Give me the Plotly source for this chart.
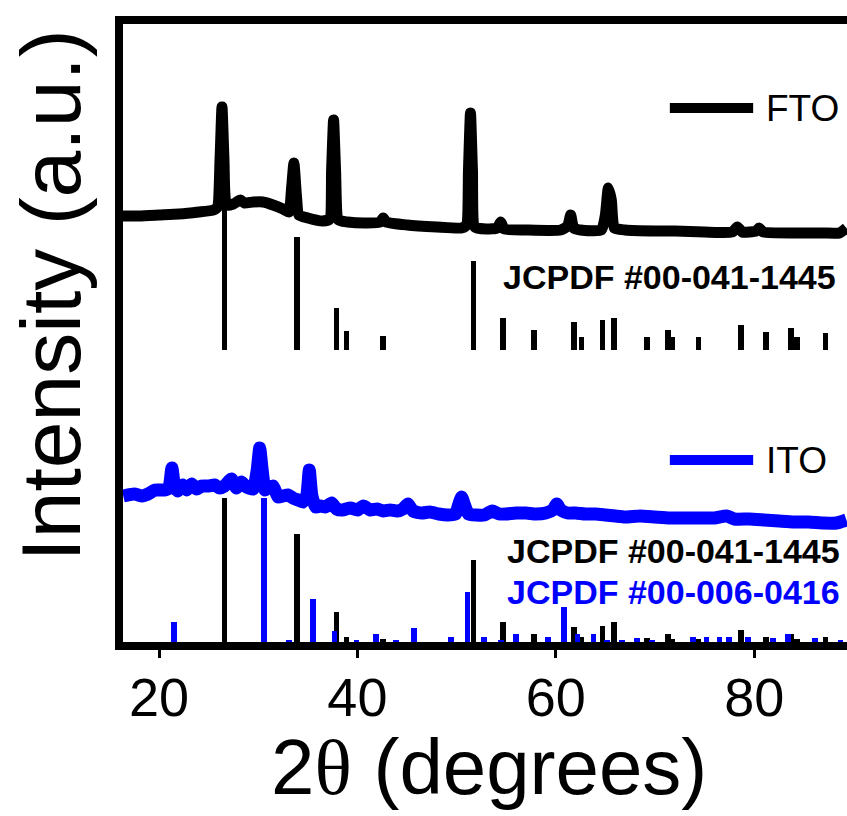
import plotly.graph_objects as go

# ---------------- data (2theta in degrees, intensity in arbitrary offset units) ----------------
fto_x = [16.0, 18.0, 20.0, 22.0, 24.0, 25.5, 25.9, 26.15, 26.35, 26.55, 26.8, 27.5, 28.2, 28.6, 29.5,
         30.5, 31.5, 32.5, 33.1, 33.35, 33.6, 33.85, 34.1, 35.0, 36.5, 37.2, 37.4, 37.6, 37.8, 38.1,
         39.0, 41.0, 42.3, 42.6, 42.9, 45.0, 48.0, 50.5, 51.0, 51.2, 51.4, 51.6, 51.85, 53.0, 54.1,
         54.45, 54.8, 57.0, 60.5, 61.2, 61.5, 61.8, 62.5, 64.6, 65.0, 65.3, 65.6, 65.9, 67.0, 70.0,
         72.0, 75.0, 77.8, 78.3, 78.8, 80.2, 80.5, 80.9, 84.0, 87.0, 88.6, 89.3]
fto_y = [426, 426, 427, 428, 430, 432, 435, 482, 535, 482, 437, 438, 442, 439, 440,
         440, 437, 433, 430, 452, 479, 447, 427, 424, 421, 423, 472, 522, 472, 422,
         420, 419, 420, 424, 420, 417, 415, 414, 417, 472, 529, 472, 415, 413, 414,
         420, 413, 412, 412, 416, 427, 414, 412, 412, 427, 454, 442, 414, 412, 411,
         411, 410, 410, 415, 410, 411, 414, 410, 409, 409, 409, 414]

ito_x = [16.4, 17.5, 18.3, 18.9, 19.6, 20.6, 21.0, 21.3, 21.6, 21.9, 22.4, 22.8, 23.3, 23.8, 24.3,
         25.0, 25.6, 26.1, 26.6, 27.3, 27.8, 28.3, 28.8, 29.5, 29.9, 30.15, 30.4, 30.7, 31.0, 31.5,
         32.0, 32.5, 33.0, 33.5, 34.0, 34.5, 34.9, 35.15, 35.4, 35.8, 36.3, 36.8, 37.4, 37.9, 38.5,
         39.3, 40.0, 40.6, 41.3, 42.0, 42.6, 43.3, 44.0, 44.6, 45.1, 45.6, 46.5, 47.3, 48.2, 49.1,
         49.9, 50.2, 50.5, 50.8, 51.2, 52.0, 52.8, 53.6, 54.3, 55.0, 56.0, 57.0, 58.0, 59.0, 59.7,
         60.1, 60.5, 61.2, 62.0, 63.0, 64.0, 65.0, 66.0, 67.0, 68.5, 70.0, 71.5, 73.0, 74.5, 76.0,
         77.2, 78.0, 79.5, 81.0, 82.5, 84.0, 85.5, 87.0, 88.3, 89.3]
ito_y = [146, 148, 146, 148, 152, 152, 154, 174, 154, 151, 157, 152, 158, 153, 156,
         156, 157, 154, 156, 163, 154, 160, 155, 153, 172, 194, 172, 152, 154, 156,
         145, 146, 147, 144, 142, 140, 147, 172, 147, 135, 136, 135, 139, 133, 132,
         134, 132, 136, 132, 133, 131, 132, 131, 133, 138, 131, 129, 130, 128, 127,
         128, 137, 145, 137, 128, 127, 127, 131, 128, 128, 129, 129, 128, 129, 132,
         138, 132, 129, 129, 128, 128, 127, 126, 125, 126, 125, 124, 124, 124, 124,
         126, 123, 123, 122, 121, 120, 120, 119, 119, 122]

# JCPDF #00-041-1445 (SnO2) reference lines
sno2_pos = [26.6, 33.9, 37.9, 38.9, 42.6, 51.7, 54.7, 57.8, 61.8, 62.6, 64.7, 65.9, 69.2, 71.3,
            71.7, 74.4, 78.7, 81.2, 83.7, 84.3, 87.2]
sno2_upper = [145, 113, 42, 19, 14, 89, 32, 20, 28, 13, 30, 32, 13, 20, 13, 13, 25, 18, 22, 13, 17]
sno2_lower = [144, 108, 30, 5, 3, 82, 20, 8, 15, 5, 16, 20, 4, 8, 3, 3, 12, 5, 8, 3, 5]
upper_base = 292

# JCPDF #00-006-0416 (In2O3) reference lines
in2o3_pos = [21.5, 30.6, 33.1, 35.5, 37.7, 39.9, 41.9, 43.9, 45.7, 49.4, 51.1, 52.8, 54.5, 56.0,
             59.2, 60.8, 62.2, 63.8, 65.2, 66.7, 68.2, 69.7, 73.8, 75.2, 76.5, 77.5, 79.4, 81.9,
             83.4, 86.1, 88.7]
in2o3_h = [20, 144, 2, 43, 11, 2, 8, 2, 14, 5, 50, 5, 2, 8, 5, 35, 8, 8, 2, 2, 4, 2, 5, 5, 5, 5,
           5, 4, 8, 4, 2]

x_ticks = [20, 40, 60, 80]
BLUE = "#0000FF"
FONT = "Liberation Sans, Arial, sans-serif"
STICK_W = 0.58

fig = go.Figure()

fig.add_trace(go.Bar(x=sno2_pos, y=sno2_upper, base=upper_base, width=STICK_W,
                     marker=dict(color="black", line=dict(width=0)), showlegend=False))
fig.add_trace(go.Bar(x=sno2_pos, y=sno2_lower, base=0, width=STICK_W,
                     marker=dict(color="black", line=dict(width=0)), showlegend=False))
fig.add_trace(go.Bar(x=in2o3_pos, y=in2o3_h, base=0, width=STICK_W,
                     marker=dict(color=BLUE, line=dict(width=0)), showlegend=False))

fig.add_trace(go.Scatter(x=fto_x, y=fto_y, mode="lines", name="FTO",
                         line=dict(color="black", width=11, shape="spline", smoothing=0.5),
                         showlegend=False))
fig.add_trace(go.Scatter(x=ito_x, y=ito_y, mode="lines", name="ITO",
                         line=dict(color=BLUE, width=13, shape="spline", smoothing=0.5),
                         showlegend=False))

# legend samples
fig.add_shape(type="line", x0=71.5, x1=79.9, y0=534, y1=534, line=dict(color="black", width=10))
fig.add_shape(type="line", x0=71.5, x1=79.9, y0=182, y1=182, line=dict(color=BLUE, width=10))
fig.add_annotation(x=81.0, y=534, text="FTO", showarrow=False, xanchor="left", yanchor="middle",
                   font=dict(size=37, color="black", family=FONT))
fig.add_annotation(x=81.0, y=182, text="ITO", showarrow=False, xanchor="left", yanchor="middle",
                   font=dict(size=37, color="black", family=FONT))

fig.add_annotation(x=88.5, y=365, text="<b>JCPDF #00-041-1445</b>", showarrow=False,
                   xanchor="right", yanchor="middle", font=dict(size=34, color="black", family=FONT))
fig.add_annotation(x=88.9, y=91, text="<b>JCPDF #00-041-1445</b>", showarrow=False,
                   xanchor="right", yanchor="middle", font=dict(size=34, color="black", family=FONT))
fig.add_annotation(x=88.9, y=50, text="<b>JCPDF #00-006-0416</b>", showarrow=False,
                   xanchor="right", yanchor="middle", font=dict(size=34, color=BLUE, family=FONT))

# axis titles
fig.add_annotation(xref="paper", yref="paper", x=-0.1, y=0.56, text="Intensity (a.u.)",
                   textangle=-90, showarrow=False, xanchor="center", yanchor="middle",
                   font=dict(size=84, color="black", family=FONT))
fig.add_annotation(xref="paper", yref="paper", x=0.506, y=-0.203,
                   text="2<span style=\"font-family:Liberation Serif\">θ</span> (degrees)",
                   showarrow=False, xanchor="center", yanchor="middle",
                   font=dict(size=78, color="black", family=FONT))

fig.update_layout(
    width=847, height=816,
    margin=dict(l=123, r=0, t=24, b=174),
    paper_bgcolor="white", plot_bgcolor="white",
    barmode="overlay", bargap=0,
    font=dict(family=FONT, color="black"),
    xaxis=dict(range=[16.37, 89.36], tickvals=x_ticks, ticktext=[str(v) for v in x_ticks],
               ticks="outside", ticklen=8, tickwidth=3, tickcolor="black",
               ticklabelstandoff=-7,
               showline=True, linewidth=8, linecolor="black", mirror=True,
               showgrid=False, zeroline=False, tickfont=dict(size=54, color="black")),
    yaxis=dict(range=[0, 618], showticklabels=False, ticks="", showgrid=False, zeroline=False,
               showline=True, linewidth=8, linecolor="black", mirror=False),
)

fig.write_html("out.html", config={"displayModeBar": False},
               post_script="document.body.style.margin='0';document.body.style.overflow='hidden';")
